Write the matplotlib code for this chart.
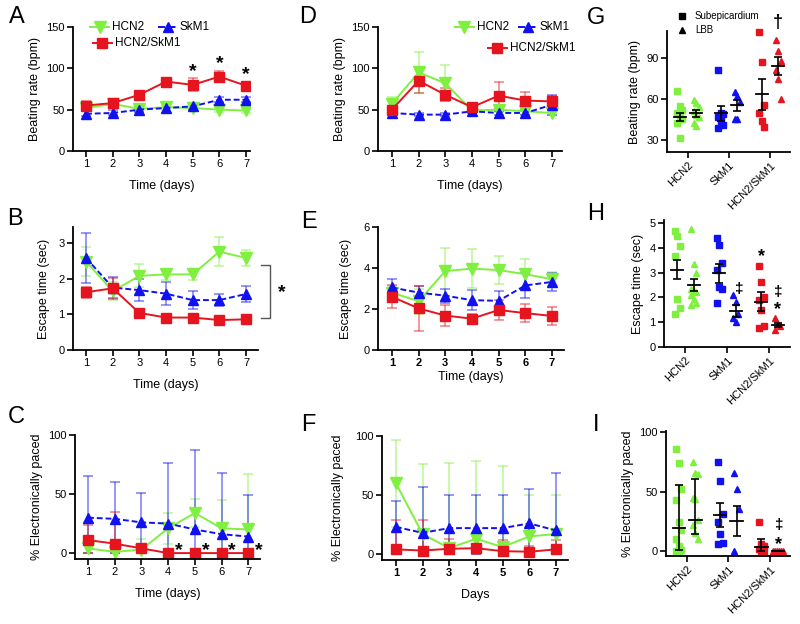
import numpy as np
import matplotlib.pyplot as plt
from matplotlib.lines import Line2D

plt.rcParams['font.family'] = ['Liberation Sans', 'DejaVu Sans']

# ---------------- data ----------------
days = np.arange(1, 8)
groups = ['HCN2', 'SkM1', 'HCN2/SkM1']

# A: beating rate, subepicardium
a_hcn2 = [52, 57, 51, 53, 52, 50, 49]
a_hcn2_err = [3, 3, 3, 3, 3, 3, 3]
a_skm1 = [45, 46, 50, 52, 54, 62, 62]
a_skm1_err = [3, 3, 3, 6, 3, 3, 3]
a_dual = [55, 58, 68, 84, 80, 90, 79]
a_dual_err = [5, 4, 3, 3, 8, 7, 5]

# B: escape time, subepicardium
b_hcn2 = [2.48, 1.65, 2.08, 2.12, 2.12, 2.76, 2.58]
b_hcn2_err = [0.4, 0.25, 0.32, 0.15, 0.15, 0.4, 0.22]
b_skm1 = [2.58, 1.75, 1.68, 1.58, 1.4, 1.4, 1.57]
b_skm1_err = [0.7, 0.3, 0.31, 0.32, 0.25, 0.17, 0.23]
b_dual = [1.62, 1.73, 1.04, 0.91, 0.91, 0.84, 0.86]
b_dual_err = [0.15, 0.3, 0.05, 0.05, 0.05, 0.04, 0.04]

# C: % electronically paced, subepicardium
c_hcn2 = [4, 1, 3, 21, 34, 21, 20]
c_hcn2_err = [4, 2, 9, 13, 12, 24, 47]
c_skm1 = [30, 29, 26, 25, 20, 16, 14]
c_skm1_err = [35, 31, 25, 51, 67, 52, 35]
c_dual = [11, 8, 4, 0, 0, 0, 0]
c_dual_err = [13, 27, 3, 0, 0, 0, 0]

# D: beating rate, LBB
d_hcn2 = [57, 95, 82, 49, 50, 48, 46]
d_hcn2_err = [8, 25, 22, 3, 3, 3, 3]
d_skm1 = [46, 44, 44, 48, 46, 46, 56]
d_skm1_err = [2, 2, 2, 2, 2, 2, 12]
d_dual = [50, 85, 68, 53, 67, 61, 60]
d_dual_err = [5, 15, 8, 4, 16, 10, 7]

# E: escape time, LBB
e_hcn2 = [2.8, 2.38, 3.85, 3.97, 3.9, 3.7, 3.45]
e_hcn2_err = [0.3, 0.6, 1.15, 0.95, 0.7, 0.75, 0.35]
e_skm1 = [3.05, 2.8, 2.65, 2.43, 2.4, 3.15, 3.32]
e_skm1_err = [0.4, 0.3, 0.35, 0.5, 0.5, 0.6, 0.45]
e_dual = [2.6, 2.03, 1.68, 1.53, 1.95, 1.8, 1.66]
e_dual_err = [0.55, 1.08, 0.52, 0.25, 0.47, 0.45, 0.45]

# F: % electronically paced, LBB
f_hcn2 = [60, 17, 5, 13, 6, 15, 17]
f_hcn2_err = [37, 59, 72, 66, 69, 35, 33]
f_skm1 = [23, 18, 22, 22, 22, 26, 20]
f_skm1_err = [22, 39, 28, 28, 28, 29, 49]
f_dual = [4, 3, 4.5, 5, 2.5, 2, 4]
f_dual_err = [25, 26, 8.5, 11, 9.5, 5, 8]

# G: beating rate per animal (subepicardium squares, LBB triangles)
g_sub = [[66, 55, 52, 50, 47.5, 45.5, 42, 31.5],
         [81, 50, 49, 47, 44, 41, 38.5],
         [109.5, 87, 55.5, 49.5, 43.5, 39.5]]
g_lbb = [[59, 57, 54, 51, 48.5, 47, 42, 40],
         [65.5, 62, 58, 45.5, 45],
         [103.5, 95, 88, 81, 74.5, 60]]
g_sub_mid = [47, 49.5, 63.5]
g_sub_lo = [44, 44, 52]
g_sub_hi = [50, 55, 75]
g_lbb_mid = [49.5, 55.5, 84.5]
g_lbb_lo = [47, 51.5, 78]
g_lbb_hi = [52, 59.5, 91]

# H: escape time per animal
h_sub = [[4.66, 4.46, 4.06, 3.66, 1.92, 1.57, 1.34],
         [4.4, 4.1, 3.38, 3.1, 2.4, 2.35, 1.78],
         [3.25, 2.62, 2.0, 1.9, 1.48, 0.85, 0.75]]
h_lbb = [[4.75, 3.33, 2.97, 2.35, 2.25, 2.2, 2.1, 1.95, 1.78, 1.7],
         [2.1, 1.8, 1.35, 1.15, 1.0],
         [1.15, 0.92, 0.85, 0.7]]
h_sub_mid = [3.12, 2.98, 1.8]
h_sub_lo = [2.75, 2.6, 1.45]
h_sub_hi = [3.5, 3.35, 2.2]
h_lbb_mid = [2.5, 1.45, 0.87]
h_lbb_lo = [2.25, 1.22, 0.8]
h_lbb_hi = [2.75, 1.68, 0.95]

# I: % electronically paced per animal
i_sub = [[86, 74, 52, 43, 24, 18, 10, 4, 1, 0, 0],
         [75, 59, 31.5, 24.5, 14.5, 7, 5.5],
         [24.5, 6, 4, 2, 0, 0]]
i_lbb = [[75, 66, 65, 45, 43.5, 26, 22, 15, 10],
         [66, 52, 35, 0],
         [0, 0, 0, 0, 0, 0]]
i_sub_mid = [19, 30.5, 3.5]
i_sub_lo = [1, 20.5, 0]
i_sub_hi = [55.5, 40.5, 10]
i_lbb_mid = [26, 25.5, 0]
i_lbb_lo = [14.5, 13, 0]
i_lbb_hi = [60.5, 37.5, 0]

# ---------------- style ----------------
GREEN = '#80f040'
BLUE = '#1010f0'
RED = '#e6141e'
W, H = 800, 624

fig = plt.figure(figsize=(8, 6.24), dpi=100)


def box(l, r, t, b):
    return [l / W, 1 - b / H, (r - l) / W, (b - t) / H]


def fx(x):
    return x / W


def fy(y):
    return 1 - y / H


def style(ax):
    for s in ['top', 'right']:
        ax.spines[s].set_visible(False)
    for s in ['left', 'bottom']:
        ax.spines[s].set_linewidth(1.3)
    ax.tick_params(width=1.2, length=4, labelsize=8, pad=2)


def line_panel(ax, series, clip=False):
    for y, e, c, m, ls, ms in series:
        y = np.array(y, dtype=float)
        e = np.array(e, dtype=float)
        lower = np.minimum(e, y) if clip else e
        ax.errorbar(days, y, yerr=[lower, e], fmt='none', ecolor=c, alpha=0.55,
                    capsize=3.5, elinewidth=1.1, capthick=1.1)
    for y, e, c, m, ls, ms in series:
        ax.plot(days, y, color=c, ls=ls, marker=m, ms=ms, lw=1.4,
                dashes=(3, 1.5) if ls == '--' else (None, None))
    style(ax)
    ax.set_xticks(days)


def legend_at(x0, y0, x1, y1, x2, y2):
    # green (x0,y0), blue (x1,y1), red (x2,y2): line starts
    items = [(x0, y0, GREEN, 'v', '-', 9, 'HCN2'),
             (x1, y1, BLUE, '^', '--', 7, 'SkM1'),
             (x2, y2, RED, 's', '-', 7, 'HCN2/SkM1')]
    for x, y, c, m, ls, ms, lab in items:
        fig.add_artist(Line2D([fx(x), fx(x + 19)], [fy(y), fy(y)], color=c, ls=ls, lw=1.4))
        fig.add_artist(Line2D([fx(x + 9.5)], [fy(y)], color=c, marker=m, ms=ms, ls='none'))
        fig.text(fx(x + 22), fy(y), lab, fontsize=8.5, va='center', ha='left')


def scatter_panel(ax, sub, lbb, smid, slo, shi, lmid, llo, lhi, colors):
    for k in range(3):
        for vals, off, m in [(sub[k], -0.2, 's'), (lbb[k], 0.2, '^')]:
            n = len(vals)
            jit = np.array([((i % 3) - 1) * 0.06 for i in range(n)])
            zeros = np.array(vals) == 0
            if zeros.sum() > 2:
                jit[zeros] = np.linspace(-0.12, 0.12, zeros.sum())
            ax.plot(k + off + jit, vals, ls='none', marker=m, ms=4.5,
                    color=colors[k], clip_on=False, zorder=2)
        for mid, lo, hi, off in [(smid[k], slo[k], shi[k], -0.2), (lmid[k], llo[k], lhi[k], 0.2)]:
            ax.errorbar([k + off], [mid], yerr=[[mid - lo], [hi - mid]], fmt='none',
                        ecolor='black', capsize=3, elinewidth=1.2, capthick=1.2, zorder=3)
            ax.plot([k + off - 0.15, k + off + 0.15], [mid, mid], color='black', lw=1.3, zorder=3)
    style(ax)
    ax.set_xlim(-0.51, 2.49)
    ax.set_xticks(range(3))
    ax.set_xticklabels(groups, rotation=45, ha='right', rotation_mode='anchor', fontsize=8)


tri_colors = [GREEN, BLUE, RED]

# ---------------- A ----------------
ax = fig.add_axes(box(73, 250, 27, 151))
line_panel(ax, [(a_hcn2, a_hcn2_err, GREEN, 'v', '-', 9),
                (a_skm1, a_skm1_err, BLUE, '^', '--', 7),
                (a_dual, a_dual_err, RED, 's', '-', 7)])
ax.set_xlim(0.51, 7.15)
ax.set_ylim(0, 150)
ax.set_yticks([0, 50, 100, 150])
ax.set_ylabel('Beating rate (bpm)', fontsize=9, labelpad=4)
ax.set_xlabel('Time (days)', fontsize=9, labelpad=8)
for d, yv in [(5, 96), (6, 106), (7, 93)]:
    ax.text(d, yv, '*', fontsize=14, ha='center', va='center', fontweight='bold')
legend_at(90, 27, 158, 27, 93, 43)

# ---------------- B ----------------
ax = fig.add_axes(box(73, 258, 227, 350))
line_panel(ax, [(b_hcn2, b_hcn2_err, GREEN, 'v', '-', 9),
                (b_skm1, b_skm1_err, BLUE, '^', '--', 7),
                (b_dual, b_dual_err, RED, 's', '-', 7)])
ax.set_xlim(0.51, 7.45)
ax.set_ylim(0, 3.45)
ax.set_yticks([0, 1, 2, 3])
ax.set_ylabel('Escape time (sec)', fontsize=9, labelpad=6)
ax.set_xlabel('Time (days)', fontsize=9, labelpad=8)
ax.plot([7.56, 7.9, 7.9, 7.56], [2.38, 2.38, 0.9, 0.9], color='#555555', lw=1, clip_on=False)
ax.text(8.35, 1.62, '*', fontsize=14, ha='center', va='center', fontweight='bold')

# ---------------- C ----------------
ax = fig.add_axes(box(75, 260, 435, 559))
line_panel(ax, [(c_hcn2, c_hcn2_err, GREEN, 'v', '-', 9),
                (c_skm1, c_skm1_err, BLUE, '^', '--', 7),
                (c_dual, c_dual_err, RED, 's', '-', 7)], clip=True)
ax.set_xlim(0.51, 7.44)
ax.set_ylim(-5, 100)
ax.set_yticks([0, 50, 100])
ax.set_ylabel('% Electronically paced', fontsize=9, labelpad=4)
ax.set_xlabel('Time (days)', fontsize=9, labelpad=8)
for d in [4, 5, 6, 7]:
    ax.text(d + 0.4, 2, '*', fontsize=14, ha='center', va='center', fontweight='bold')

# ---------------- D ----------------
ax = fig.add_axes(box(378, 562, 27, 151))
line_panel(ax, [(d_hcn2, d_hcn2_err, GREEN, 'v', '-', 9),
                (d_skm1, d_skm1_err, BLUE, '^', '--', 7),
                (d_dual, d_dual_err, RED, 's', '-', 7)])
ax.set_xlim(0.48, 7.37)
ax.set_ylim(0, 150)
ax.set_yticks([0, 50, 100, 150])
ax.set_ylabel('Beating rate (bpm)', fontsize=9, labelpad=4)
ax.set_xlabel('Time (days)', fontsize=9, labelpad=8)
legend_at(455, 27, 518, 27, 488, 48)

# ---------------- E ----------------
ax = fig.add_axes(box(378, 564, 227, 350))
line_panel(ax, [(e_hcn2, e_hcn2_err, GREEN, 'v', '-', 9),
                (e_skm1, e_skm1_err, BLUE, '^', '--', 7),
                (e_dual, e_dual_err, RED, 's', '-', 7)])
ax.set_xlim(0.48, 7.45)
ax.set_ylim(0, 6)
ax.set_yticks([0, 2, 4, 6])
for t in ax.get_xticklabels():
    t.set_fontweight('bold')
ax.set_ylabel('Escape time (sec)', fontsize=9, labelpad=8)
ax.set_xlabel('Time (days)', fontsize=9, labelpad=2)

# ---------------- F ----------------
ax = fig.add_axes(box(382, 568, 436, 560))
line_panel(ax, [(f_hcn2, f_hcn2_err, GREEN, 'v', '-', 9),
                (f_skm1, f_skm1_err, BLUE, '^', '--', 7),
                (f_dual, f_dual_err, RED, 's', '-', 7)], clip=True)
ax.set_xlim(0.48, 7.45)
ax.set_ylim(-5, 100)
ax.set_yticks([0, 50, 100])
for t in ax.get_xticklabels():
    t.set_fontweight('bold')
ax.set_ylabel('% Electronically paced', fontsize=9, labelpad=8)
ax.set_xlabel('Days', fontsize=9, labelpad=8)

# ---------------- G ----------------
ax = fig.add_axes(box(667, 790, 31, 152))
scatter_panel(ax, g_sub, g_lbb, g_sub_mid, g_sub_lo, g_sub_hi,
              g_lbb_mid, g_lbb_lo, g_lbb_hi, tri_colors)
ax.set_ylim(21, 110)
ax.set_yticks([30, 60, 90])
ax.set_ylabel('Beating rate (bpm)', fontsize=9, labelpad=4)
ax.text(2.2, 116, '\u2020', fontsize=13, ha='center', va='center', fontweight='bold', clip_on=False)
fig.add_artist(Line2D([fx(682)], [fy(16)], marker='s', color='black', ms=4, ls='none'))
fig.add_artist(Line2D([fx(682)], [fy(30)], marker='^', color='black', ms=4, ls='none'))
fig.text(fx(695), fy(16), 'Subepicardium', fontsize=7, va='center')
fig.text(fx(695), fy(30), 'LBB', fontsize=7, va='center')

# ---------------- H ----------------
ax = fig.add_axes(box(664, 790, 220, 347))
scatter_panel(ax, h_sub, h_lbb, h_sub_mid, h_sub_lo, h_sub_hi,
              h_lbb_mid, h_lbb_lo, h_lbb_hi, tri_colors)
ax.set_ylim(0, 5.12)
ax.set_yticks([0, 1, 2, 3, 4, 5])
ax.set_ylabel('Escape time (sec)', fontsize=9, labelpad=4)
ax.text(1.27, 2.35, '\u2021', fontsize=11, ha='center', va='center', fontweight='bold')
ax.text(1.8, 3.65, '*', fontsize=13, ha='center', va='center', fontweight='bold')
ax.text(2.2, 2.2, '\u2021', fontsize=11, ha='center', va='center', fontweight='bold')
ax.text(2.2, 1.5, '*', fontsize=13, ha='center', va='center', fontweight='bold')

# ---------------- I ----------------
ax = fig.add_axes(box(666, 790, 431, 556))
scatter_panel(ax, i_sub, i_lbb, i_sub_mid, i_sub_lo, i_sub_hi,
              i_lbb_mid, i_lbb_lo, i_lbb_hi, tri_colors)
ax.set_ylim(-4.2, 101)
ax.set_yticks([0, 50, 100])
ax.set_ylabel('% Electronically paced', fontsize=9, labelpad=4)
ax.text(2.22, 22, '\u2021', fontsize=11, ha='center', va='center', fontweight='bold')
ax.text(2.22, 5, '*', fontsize=13, ha='center', va='center', fontweight='bold')

# ---------------- panel letters ----------------
for lab, x, y in [('A', 17, 17), ('B', 15, 219), ('C', 16, 417),
                  ('D', 308, 17), ('E', 309, 222), ('F', 308, 425),
                  ('G', 596, 18), ('H', 596, 214), ('I', 596, 425)]:
    fig.text(fx(x), fy(y), lab, fontsize=17, ha='center', va='center')

fig.savefig('out.png', dpi=100)
